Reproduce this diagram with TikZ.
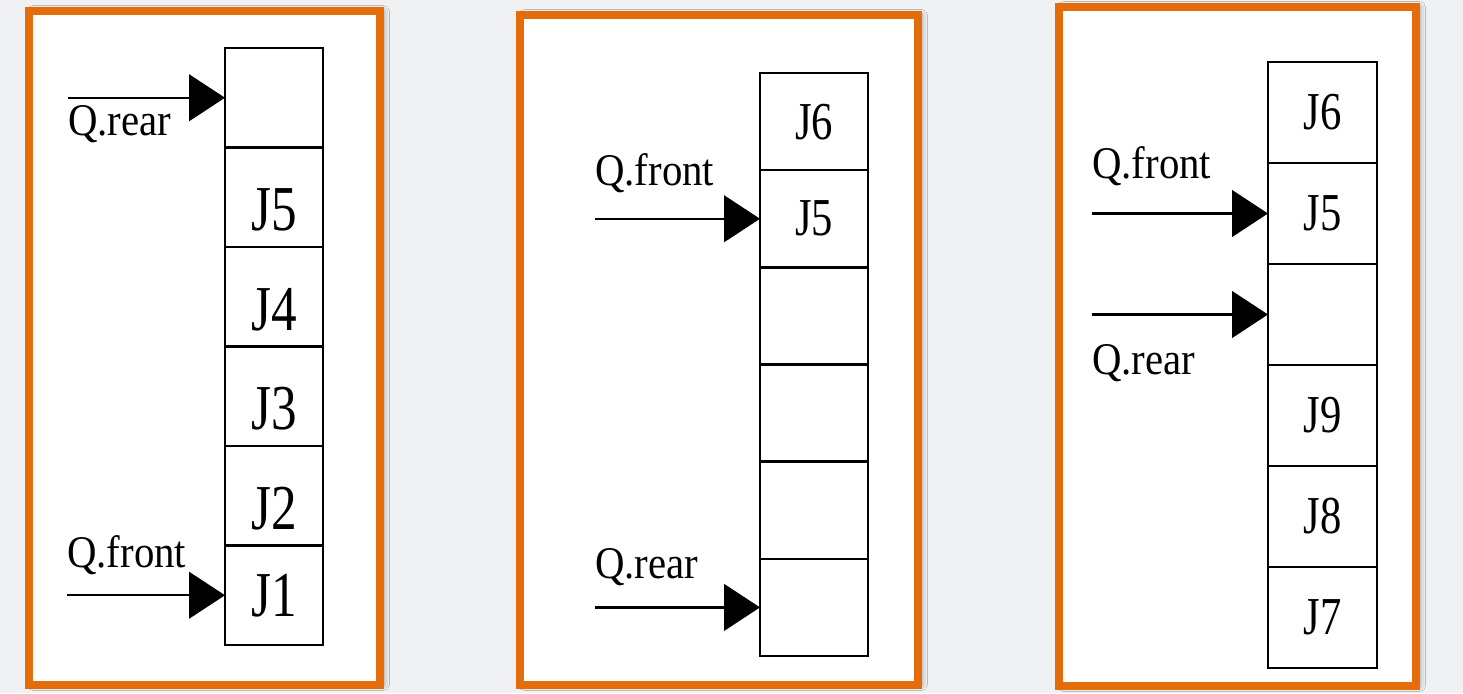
\documentclass[tikz,border=0pt]{standalone}
\usepackage{fontspec}
\setmainfont{Liberation Serif}[FakeStretch=0.9]
\newfontfamily\cellfont{Liberation Serif}[FakeStretch=0.8]
\usetikzlibrary{arrows.meta}
\usetikzlibrary{shadows.blur}
\definecolor{frameorange}{RGB}{228,108,10}
\definecolor{slidegray}{RGB}{240,241,243}

\tikzset{
  cell/.style={draw, line width=1.8pt, inner sep=0pt, outer sep=0pt},
  cellA/.style={cell, minimum width=73.5pt, minimum height=74.6pt, font=\cellfont\fontsize{48}{50}\selectfont, text height=50.4pt, text depth=0pt},
  cellB/.style={cell, minimum width=81pt, minimum height=72.9pt, font=\cellfont\fontsize{40}{44}\selectfont},
  cellC/.style={cell, minimum width=81.75pt, minimum height=75.75pt, font=\cellfont\fontsize{40}{44}\selectfont},
  ptr/.style={line width=1.8pt, -{Triangle[length=27pt,width=35pt,fill=black]}},
  qlabel/.style={anchor=base west, inner sep=0pt, font=\fontsize{34}{40}\selectfont},
  panel/.style={draw=frameorange, line width=6pt, fill=white, blur shadow={shadow xshift=3pt, shadow yshift=0pt, shadow blur radius=4pt, shadow opacity=35}}
}

\begin{document}
\begin{tikzpicture}[x=0.75pt,y=0.75pt,yscale=-1,xscale=1]
%set diagram to the size of the slide
\fill[slidegray] (0,0) rectangle (1463,693);
\useasboundingbox (0,0) rectangle (1463,693);

%Shape: Rectangle (left panel)
\draw[panel] (28.5,11) rectangle (380,685);
%Shape: Rectangle (middle panel)
\draw[panel] (520,15) rectangle (918,685);
%Shape: Rectangle (right panel)
\draw[panel] (1059,7) rectangle (1416,686);

%Shape: Cells, left queue
\node[cellA] (a1) at (274,97.75) {};
\node[cellA] (a2) at (274,197.25) {J5};
\node[cellA] (a3) at (274,296.75) {J4};
\node[cellA] (a4) at (274,396.25) {J3};
\node[cellA] (a5) at (274,495.75) {J2};
\node[cellA, text height=32.4pt] (a6) at (274,595.25) {J1};

%Shape: Cells, middle queue
\node[cellB] (b1) at (814,121.6) {J6};
\node[cellB] (b2) at (814,218.75) {J5};
\node[cellB] (b3) at (814,315.9) {};
\node[cellB] (b4) at (814,413.1) {};
\node[cellB] (b5) at (814,510.25) {};
\node[cellB] (b6) at (814,607.4) {};

%Shape: Cells, right queue
\node[cellC] (c1) at (1322.5,112.5) {J6};
\node[cellC] (c2) at (1322.5,213.5) {J5};
\node[cellC] (c3) at (1322.5,314.5) {};
\node[cellC] (c4) at (1322.5,415.5) {J9};
\node[cellC] (c5) at (1322.5,516.5) {J8};
\node[cellC] (c6) at (1322.5,617.5) {J7};

%Straight Lines
\coordinate (rear1) at (68,97.75);
\coordinate (front1) at (67,595.25);
\coordinate (front2) at (595,218.75);
\coordinate (rear2) at (595,607.4);
\coordinate (front3) at (1092,213.5);
\coordinate (rear3) at (1092,314.5);
\draw[ptr] (rear1) -- (a1.west);
\draw[ptr] (front1) -- (a6.west);
\draw[ptr] (front2) -- (b2.west);
\draw[ptr] (rear2) -- (b6.west);
\draw[ptr] (front3) -- (c2.west);
\draw[ptr] (rear3) -- (c3.west);

% Text Node
\node[qlabel] (lrear1) at (68,135) {Q.rear};
% Text Node
\node[qlabel] (lfront1) at (67,567) {Q.front};
% Text Node
\node[qlabel] (lfront2) at (595,185) {Q.front};
% Text Node
\node[qlabel] (lrear2) at (595,578) {Q.rear};
% Text Node
\node[qlabel] (lfront3) at (1092,178) {Q.front};
% Text Node
\node[qlabel] (lrear3) at (1092,374) {Q.rear};

\end{tikzpicture}
\end{document}
